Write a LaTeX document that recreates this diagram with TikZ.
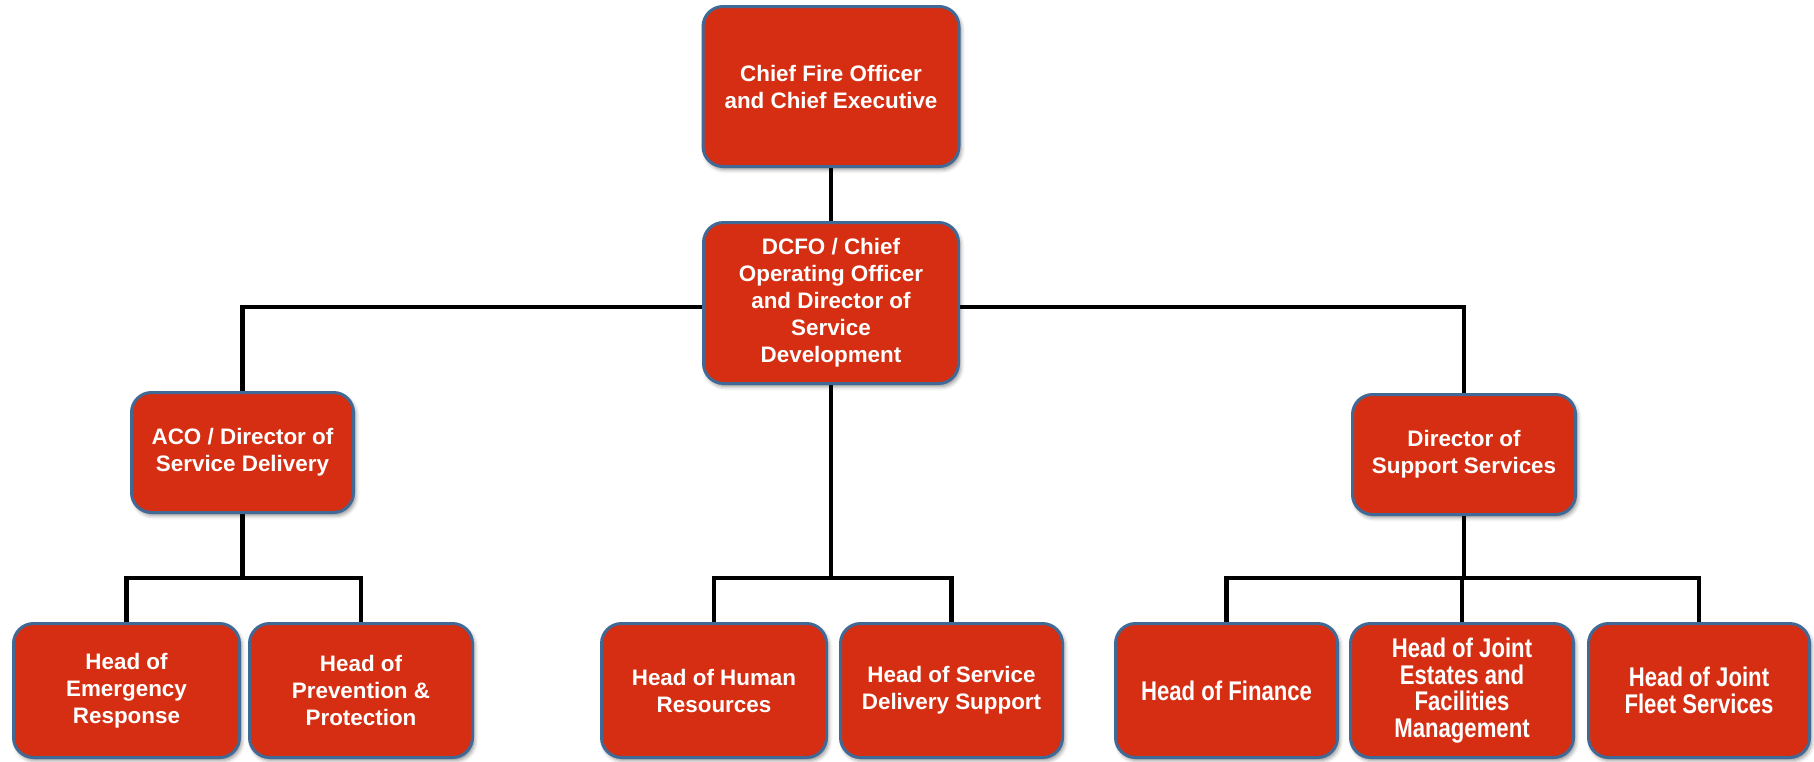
\documentclass[tikz,border=0pt]{standalone}
\usepackage{fontspec}
\setmainfont{Liberation Sans}
\newfontfamily\narrowfont[FakeStretch=0.82]{Liberation Sans}
\usetikzlibrary{shadows.blur,backgrounds}
\definecolor{boxfill}{RGB}{213,46,18}
\definecolor{boxedge}{RGB}{65,105,150}
\begin{document}
\begin{tikzpicture}[x=1pt,y=-1pt,
  box/.style={draw=boxedge,line width=3pt,fill=boxfill,rounded corners=20pt,
    text=white,font=\fontsize{22.4}{27}\selectfont\bfseries,align=center,
    inner sep=0pt,
    blur shadow={shadow xshift=2pt,shadow yshift=-3pt,shadow blur radius=4pt,shadow opacity=45}},
  narrowbox/.style={box,font=\narrowfont\fontsize{27}{26.5}\selectfont\bfseries},
  wire/.style={line width=4.5pt,black}]
\useasboundingbox (0,0) rectangle (1814,761);

% top of the chart
\node[box,minimum width=256,minimum height=160] (ceo) at (831,86.5)
  {Chief Fire Officer\\and Chief Executive};
\node[box,minimum width=255,minimum height=161] (dcfo) at (831,303)
  {DCFO / Chief\\Operating Officer\\and Director of\\Service\\Development};

% directors
\node[box,minimum width=222,minimum height=120] (aco) at (242.5,452.5)
  {ACO / Director of\\Service Delivery};
\node[box,minimum width=223,minimum height=120] (dss) at (1464,454.5)
  {Director of\\Support Services};

% heads of department
\node[box,minimum width=226,minimum height=134] (her) at (126.5,690.5)
  {Head of\\Emergency\\Response};
\node[box,minimum width=223,minimum height=134] (hpp) at (361,690.5)
  {Head of\\Prevention \&\\Protection};
\node[box,minimum width=225,minimum height=134] (hhr) at (714,690.5)
  {Head of Human\\Resources};
\node[box,minimum width=222,minimum height=134] (hsds) at (951.5,690.5)
  {Head of Service\\Delivery Support};
\node[narrowbox,minimum width=222,minimum height=134] (hfin) at (1226.5,690.5)
  {Head of Finance};
\node[narrowbox,minimum width=223,minimum height=134] (hest) at (1462,690.5)
  {Head of Joint\\Estates and\\Facilities\\Management};
\node[narrowbox,minimum width=221,minimum height=134] (hflt) at (1699,690.5)
  {Head of Joint\\Fleet Services};

% reporting lines
\coordinate (busA) at (831,307);
\coordinate (busB) at (831,578);
\begin{pgfonlayer}{background}
\draw[wire] (ceo.south) -- (dcfo.north);
\draw[wire] (aco.north) |- (busA) -| (dss.north);
\draw[wire] (aco.south) -- (aco.south |- busB);
\draw[wire] (her.north) |- (aco.south |- busB) -| (hpp.north);
\draw[wire] (dcfo.south) -- (busB);
\draw[wire] (hhr.north) |- (busB) -| (hsds.north);
\draw[wire] (dss.south) -- (dss.south |- busB);
\draw[wire] (hfin.north) |- (dss.south |- busB) -| (hflt.north);
\draw[wire] (hest.north) -- (hest.north |- busB);
\end{pgfonlayer}
\end{tikzpicture}
\end{document}
